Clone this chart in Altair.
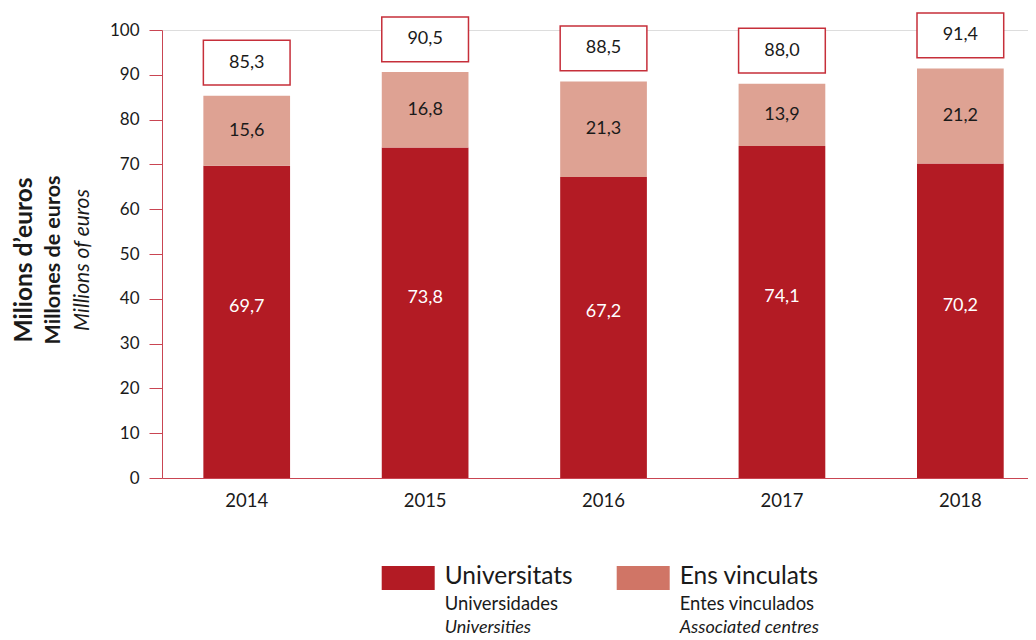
import altair as alt
import pandas as pd

# ---- data ----
years = ["2014", "2015", "2016", "2017", "2018"]
universitats = [69.7, 73.8, 67.2, 74.1, 70.2]
ens_vinculats = [15.6, 16.8, 21.3, 13.9, 21.2]
totals = [85.3, 90.5, 88.5, 88.0, 91.4]

series_names = ["Universitats", "Ens vinculats"]
series_colors = ["#B31B24", "#DEA293"]
legend_colors = ["#B31B24", "#D07566"]
legend_line2 = ["Universidades", "Entes vinculados"]
legend_line3 = ["Universities", "Associated centres"]
title_lines = ["Milions d\u2019euros", "Millones de euros", "Millions of euros"]
y_ticks = list(range(0, 101, 10))

rows = []
for i, y in enumerate(years):
    rows.append({"year": y, "series": series_names[0], "order": 0, "value": universitats[i]})
    rows.append({"year": y, "series": series_names[1], "order": 1, "value": ens_vinculats[i]})
df = pd.DataFrame(rows)
tdf = pd.DataFrame({"year": years, "total": totals})

AXIS_RED = "#C94552"
TEXT = "#1a1a1a"
FONT = "Lato"

xscale = alt.Scale(domain=years, paddingInner=0.514, paddingOuter=0.184, align=0.63)
yscale = alt.Scale(domain=[0, 100], nice=False, zero=True)

x_enc = alt.X("year:N", scale=xscale, sort=years,
              axis=alt.Axis(title=None, ticks=False, labelAngle=0, labelPadding=13,
                            labelFontSize=18.5, labelColor=TEXT, labelFont=FONT,
                            domainColor=AXIS_RED, domainWidth=1))
y_axis = alt.Axis(values=y_ticks, title=None, grid=False, domainColor=AXIS_RED,
                  tickColor=AXIS_RED, tickSize=13, labelPadding=10, labelFontSize=17,
                  labelColor=TEXT, labelFont=FONT, domainWidth=1, tickWidth=1)

base = alt.Chart(df).transform_stack(
    stack="value", groupby=["year"], as_=["y0", "y1"],
    sort=[alt.SortField("order", order="ascending")]
).transform_calculate(
    mid="(datum.y0 + datum.y1) / 2",
    label="replace(format(datum.value, '.1f'), '.', ',')"
)

bars = base.mark_bar().encode(
    x=x_enc,
    y=alt.Y("y0:Q", scale=yscale, axis=y_axis),
    y2="y1:Q",
    color=alt.Color("series:N", scale=alt.Scale(domain=series_names, range=series_colors), legend=None),
)

lab_dark = base.transform_filter("datum.order == 0").mark_text(
    color="white", fontSize=18, font=FONT, dy=-15, baseline="middle"
).encode(x=x_enc, y=alt.Y("mid:Q", scale=yscale), text="label:N")

lab_light = base.transform_filter("datum.order == 1").mark_text(
    color=TEXT, fontSize=18, font=FONT, baseline="middle"
).encode(x=x_enc, y=alt.Y("mid:Q", scale=yscale), text="label:N")

tot = alt.Chart(tdf).transform_calculate(
    b="datum.total + 2.4", t="datum.total + 12.4", m="datum.total + 7.4",
    label="replace(format(datum.total, '.1f'), '.', ',')"
)
boxes = tot.mark_bar(fill="white", stroke="#C62F3A", strokeWidth=1.5).encode(
    x=x_enc, y=alt.Y("b:Q", scale=yscale), y2="t:Q"
)
box_text = tot.mark_text(color=TEXT, fontSize=18, font=FONT, baseline="middle").encode(
    x=x_enc, y=alt.Y("m:Q", scale=yscale), text="label:N"
)

one = alt.Data(values=[{}])
layers = [bars, lab_dark, lab_light, boxes, box_text]

# y-axis title (three lines, different styles)
title_specs = [
    (title_lines[0], -137, 24.5, "bold", "normal"),
    (title_lines[1], -108, 21.5, "bold", "normal"),
    (title_lines[2], -79, 21, "normal", "italic"),
]
for txt, xp, fs, fw, fst in title_specs:
    layers.append(
        alt.Chart(one).mark_text(angle=270, fontSize=fs, fontWeight=fw, fontStyle=fst, font=FONT,
                                 align="center", baseline="middle", color=TEXT).encode(
            x=alt.value(xp), y=alt.value(230), text=alt.value(txt))
    )

# custom legend
legend_x = [219.7, 454.7]
for i in range(2):
    sx = legend_x[i]
    layers.append(
        alt.Chart(one).mark_rect().encode(
            x=alt.value(sx), x2=alt.value(sx + 53), y=alt.value(536), y2=alt.value(560),
            color=alt.value(legend_colors[i]))
    )
    for txt, yp, fs, fst in [(series_names[i], 554, 24.5, "normal"),
                             (legend_line2[i], 579.5, 18.4, "normal"),
                             (legend_line3[i], 602.5, 18, "italic")]:
        layers.append(
            alt.Chart(one).mark_text(align="left", baseline="alphabetic", fontSize=fs, fontStyle=fst,
                                     font=FONT, color=TEXT).encode(
                x=alt.value(sx + 63), y=alt.value(yp), text=alt.value(txt))
        )

chart = alt.layer(*layers).properties(
    width=866, height=448,
    padding={"left": 154, "top": 22, "right": 0, "bottom": 160},
    autosize=alt.AutoSizeParams(type="none"),
).configure_view(stroke=None).configure(font=FONT)

chart.save("out.html", embed_options={"renderer": "svg", "actions": False})
